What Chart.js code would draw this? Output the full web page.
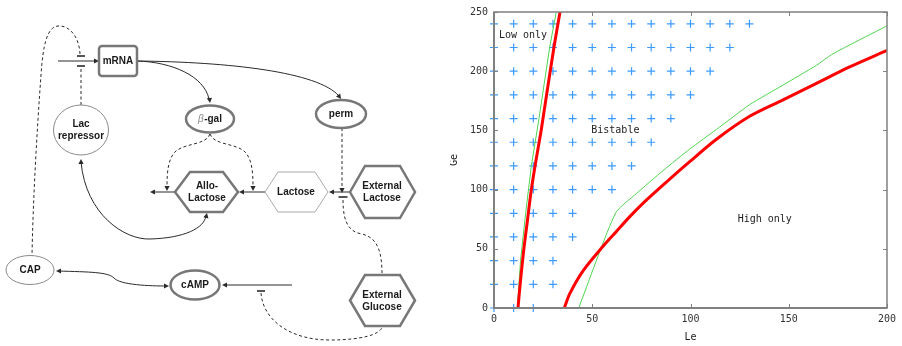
<!DOCTYPE html>
<html>
<head>
<meta charset="utf-8">
<script src="https://cdn.jsdelivr.net/npm/chart.js@4.4.1/dist/chart.umd.min.js"></script>
<style>
  html, body { margin: 0; padding: 0; background: #fff; }
  #diagram { position: absolute; left: 0; top: 0; }
  #plotBox { position: absolute; left: 450px; top: 0; width: 452px; height: 346px; }
</style>
</head>
<body>
<canvas id="diagram" width="450" height="346"></canvas>
<div id="plotBox"><canvas id="plot" width="452" height="346"></canvas></div>
<script>
// grid of sampled parameter sets (Le columns for each Ge row)
const gridGe = [0, 20, 40, 60, 80, 100, 120, 140, 160, 180, 200, 220, 240]
const gridMaxLe = [20, 30, 30, 40, 40, 60, 70, 80, 90, 100, 110, 120, 130]

// bifurcation boundaries, model (red) and approximation (green)
const redLowLe = [12.2, 13.6, 15.2, 17.1, 19.0, 21.4, 24.0, 26.3, 28.6, 31.0, 33.6]
const redLowGe = [0, 25, 50, 75, 100, 125, 150, 175, 200, 225, 250]
const redHighLe = [35.8, 38.5, 45.3, 55.5, 62.3, 69.1, 77.5, 87.7, 99.6, 113.2, 130.1, 147.1, 164.1, 181.0, 200]
const redHighGe = [0, 11.9, 31.4, 52.2, 64.7, 77.2, 91.1, 106.4, 123.6, 142.5, 161.9, 175.8, 189.7, 203.6, 217.5]
const greenLowLe = [11.9, 13.5, 16.1, 19.0, 22.9, 25.6, 28.3, 31.7]
const greenLowGe = [0, 40, 80, 120, 160, 190, 220, 250]
const greenHighLe = [43.1, 61.9, 72.5, 86.0, 99.6, 113.2, 130.1, 147.1, 164.1, 172.5, 200]
const greenHighGe = [0, 80.3, 96.7, 116.0, 134.2, 150.8, 171.7, 188.3, 205.0, 214.7, 238.3]

const xTicks = [0, 50, 100, 150, 200]
const yTicks = [0, 50, 100, 150, 200, 250]

const regionLabels = [
  { text: 'Low only', le: 2.5, ge: 230 },
  { text: 'Bistable', le: 49.5, ge: 150 },
  { text: 'High only', le: 124, ge: 75 }
]

const pts = (xs, ys) => xs.map((x, i) => ({ x: x, y: ys[i] }))
const gridPts = []
gridGe.forEach((g, i) => {
  for (let le = 0; le <= gridMaxLe[i]; le += 10) gridPts.push({ x: le, y: g })
})

const mono = 'DejaVu Sans Mono, monospace'

const frame = {
  id: 'frame',
  afterDatasetsDraw(chart) {
    const { ctx, chartArea: a, scales } = chart
    ctx.save()
    ctx.strokeStyle = '#808080'
    ctx.lineWidth = 1
    xTicks.forEach(v => {
      const px = Math.round(scales.x.getPixelForValue(v)) + 0.5
      ctx.beginPath()
      ctx.moveTo(px, a.bottom); ctx.lineTo(px, a.bottom - 4)
      ctx.moveTo(px, a.top); ctx.lineTo(px, a.top + 4)
      ctx.stroke()
    })
    yTicks.forEach(v => {
      const py = Math.round(scales.y.getPixelForValue(v)) + 0.5
      ctx.beginPath()
      ctx.moveTo(a.left, py); ctx.lineTo(a.left + 4, py)
      ctx.moveTo(a.right, py); ctx.lineTo(a.right - 4, py)
      ctx.stroke()
    })
    ctx.lineWidth = 1.5
    ctx.strokeRect(a.left, a.top, a.right - a.left, a.bottom - a.top)
    ctx.lineWidth = 2
    ctx.beginPath()
    ctx.moveTo(a.left, a.top); ctx.lineTo(a.left, a.bottom); ctx.lineTo(a.right, a.bottom)
    ctx.stroke()
    ctx.restore()
  },
  afterDraw(chart) {
    const { ctx, chartArea: a, scales } = chart
    ctx.save()
    ctx.fillStyle = '#222'
    ctx.font = '10px ' + mono
    ctx.textBaseline = 'middle'
    ctx.textAlign = 'left'
    regionLabels.forEach(r => {
      ctx.fillText(r.text, scales.x.getPixelForValue(r.le), scales.y.getPixelForValue(r.ge))
    })
    ctx.textAlign = 'center'
    ctx.fillText('Le', (a.left + a.right) / 2, 337)
    ctx.translate(4, (a.top + a.bottom) / 2)
    ctx.rotate(-Math.PI / 2)
    ctx.fillText('Ge', 0, 0)
    ctx.restore()
  }
}

new Chart(document.getElementById('plot'), {
  type: 'scatter',
  data: {
    datasets: [
      { data: pts(redLowLe, redLowGe), showLine: true, borderColor: '#ff0000', borderWidth: 3, pointRadius: 0, tension: 0.3 },
      { data: pts(redHighLe, redHighGe), showLine: true, borderColor: '#ff0000', borderWidth: 3, pointRadius: 0, tension: 0.3 },
      { data: pts(greenLowLe, greenLowGe), showLine: true, borderColor: '#4fd44f', borderWidth: 1, pointRadius: 0 },
      { data: pts(greenHighLe, greenHighGe), showLine: true, borderColor: '#4fd44f', borderWidth: 1, pointRadius: 0, tension: 0.2 },
      { data: gridPts, pointStyle: 'cross', pointRadius: 4, borderColor: '#3d9bff', borderWidth: 1.2, clip: false }
    ]
  },
  options: {
    responsive: false,
    animation: false,
    layout: { padding: { top: 7, right: 15 } },
    plugins: { legend: { display: false }, tooltip: { enabled: false } },
    scales: {
      x: {
        type: 'linear', min: 0, max: 200,
        afterFit: s => { s.height = 38 },
        afterBuildTicks: s => { s.ticks = xTicks.map(v => ({ value: v })) },
        grid: { display: false, drawTicks: false }, border: { display: false },
        ticks: { padding: 5, color: '#333', font: { family: mono, size: 10 } }
      },
      y: {
        type: 'linear', min: 0, max: 250,
        afterFit: s => { s.width = 44 },
        afterBuildTicks: s => { s.ticks = yTicks.map(v => ({ value: v })) },
        grid: { display: false, drawTicks: false }, border: { display: false },
        ticks: { padding: 6, color: '#333', font: { family: mono, size: 10 } }
      }
    }
  },
  plugins: [frame]
})

// ---- regulatory network diagram (left panel) ----
const d = document.getElementById('diagram').getContext('2d')
const ink = '#2a2a2a'
const thick = '#777'
const font = 'bold 10px Liberation Sans, Arial, sans-serif'

function arrow(x, y, ang) {
  d.save()
  d.translate(x, y); d.rotate(ang)
  d.beginPath()
  d.moveTo(0, 0); d.lineTo(-5, -2.6); d.lineTo(-5, 2.6); d.closePath()
  d.fillStyle = ink
  d.fill()
  d.restore()
}
function bar(x, y, w) {
  d.save(); d.lineWidth = 1.6; d.strokeStyle = ink
  d.beginPath(); d.moveTo(x - w / 2, y); d.lineTo(x + w / 2, y); d.stroke(); d.restore()
}
function stroke(dashed, fn) {
  d.save()
  d.strokeStyle = ink; d.lineWidth = 1
  d.setLineDash(dashed ? [3, 2.5] : [])
  d.beginPath(); fn(); d.stroke()
  d.restore()
}
function ellipse(cx, cy, rx, ry, heavy) {
  d.save()
  d.beginPath(); d.ellipse(cx, cy, rx, ry, 0, 0, Math.PI * 2)
  d.fillStyle = '#fff'; d.fill()
  d.strokeStyle = heavy ? thick : '#8a8a8a'; d.lineWidth = heavy ? 2.5 : 1
  d.stroke(); d.restore()
}
function hexagon(x0, x1, y0, y1, inset, heavy, color) {
  const cy = (y0 + y1) / 2
  d.save()
  d.beginPath()
  d.moveTo(x0, cy); d.lineTo(x0 + inset, y0); d.lineTo(x1 - inset, y0)
  d.lineTo(x1, cy); d.lineTo(x1 - inset, y1); d.lineTo(x0 + inset, y1); d.closePath()
  d.fillStyle = '#fff'; d.fill()
  d.strokeStyle = color || thick; d.lineWidth = heavy ? 2.5 : 1
  d.stroke(); d.restore()
}
function label(lines, cx, cy) {
  d.save()
  d.fillStyle = '#1a1a1a'; d.font = font
  d.textAlign = 'center'; d.textBaseline = 'middle'
  const h = 12
  lines.forEach((t, i) => d.fillText(t, cx, cy + (i - (lines.length - 1) / 2) * h))
  d.restore()
}

// edges
stroke(false, () => { d.moveTo(58, 61); d.lineTo(97, 61) }); arrow(99, 61, 0)
bar(81, 56, 8); bar(81, 66, 8)
stroke(true, () => {
  d.moveTo(80, 54); d.bezierCurveTo(79, 35, 68, 25, 58, 26)
  d.bezierCurveTo(47, 27, 43, 45, 41, 75)
  d.bezierCurveTo(37, 130, 33, 200, 32, 256)
})
stroke(true, () => { d.moveTo(81, 105); d.lineTo(81, 68) })
stroke(false, () => { d.moveTo(137, 61); d.bezierCurveTo(172, 62, 204, 76, 209, 99) }); arrow(210, 103, 1.45)
stroke(false, () => { d.moveTo(137, 61); d.bezierCurveTo(230, 62, 318, 72, 339, 96) }); arrow(341, 99, 0.95)
stroke(true, () => { d.moveTo(342, 128); d.lineTo(342, 188) }); arrow(342, 193, Math.PI / 2)
bar(343, 197, 9)
stroke(true, () => {
  d.moveTo(343, 200); d.bezierCurveTo(343, 224, 350, 232, 362, 234)
  d.bezierCurveTo(378, 238, 382, 252, 382, 275)
})
stroke(false, () => { d.moveTo(350, 192); d.lineTo(331, 192) }); arrow(329, 192, Math.PI)
stroke(false, () => { d.moveTo(265, 192); d.lineTo(241, 192) }); arrow(239, 192, Math.PI)
stroke(false, () => { d.moveTo(175, 192); d.lineTo(152, 192) }); arrow(150, 192, Math.PI)
stroke(true, () => {
  d.moveTo(210, 134); d.bezierCurveTo(206, 145, 186, 143, 176, 151)
  d.bezierCurveTo(168, 158, 167, 172, 167, 187)
})
arrow(167, 191, Math.PI / 2)
stroke(true, () => {
  d.moveTo(210, 134); d.bezierCurveTo(214, 145, 234, 143, 244, 151)
  d.bezierCurveTo(252, 158, 253, 172, 253, 187)
})
arrow(253, 191, Math.PI / 2)
stroke(false, () => {
  d.moveTo(81, 162); d.bezierCurveTo(86, 215, 125, 240, 150, 239)
  d.bezierCurveTo(185, 238, 204, 228, 206, 216)
})
arrow(81, 159, -Math.PI / 2); arrow(207, 213, -1.35)
stroke(false, () => {
  d.moveTo(58, 271); d.bezierCurveTo(90, 272, 108, 272, 114, 278)
  d.bezierCurveTo(120, 285, 150, 286, 167, 286)
})
arrow(56, 271, Math.PI); arrow(169, 286, 0)
stroke(false, () => { d.moveTo(292, 285); d.lineTo(224, 285) }); arrow(222, 285, Math.PI)
bar(261, 291, 8)
stroke(true, () => {
  d.moveTo(261, 293); d.bezierCurveTo(263, 320, 290, 340, 330, 340)
  d.bezierCurveTo(360, 340, 380, 335, 382, 327)
})

// nodes
d.save()
d.beginPath(); d.roundRect(99, 46, 38, 30, 3)
d.fillStyle = '#fff'; d.fill(); d.strokeStyle = thick; d.lineWidth = 2.5; d.stroke()
d.restore()
label(['mRNA'], 118, 61)

ellipse(81, 130, 27.5, 25, false); label(['Lac', 'repressor'], 81, 130)
ellipse(210, 119, 24, 13.5, true)
d.save()
d.font = font; d.textBaseline = 'middle'
const bw = d.measureText('\u03b2').width, gw = d.measureText('-gal').width
d.font = 'italic 10px Liberation Sans, Arial, sans-serif'
d.fillStyle = '#888'; d.fillText('\u03b2', 210 - (bw + gw) / 2, 119)
d.font = font
d.fillStyle = '#1a1a1a'; d.fillText('-gal', 210 - (bw + gw) / 2 + bw, 119)
d.restore()
ellipse(341, 114, 25, 14, true); label(['perm'], 341, 114)

hexagon(175, 238, 172, 212, 15, true); label(['Allo-', 'Lactose'], 207, 192)
hexagon(265, 328, 172, 212, 13, false, '#aaa'); label(['Lactose'], 296, 192)
hexagon(350, 415, 166, 218, 15, true); label(['External', 'Lactose'], 382, 192)
hexagon(350, 415, 275, 326, 15, true); label(['External', 'Glucose'], 382, 301)

ellipse(30, 270, 24, 14.5, false); label(['CAP'], 30, 270)
ellipse(195, 285, 24.5, 14.5, true); label(['cAMP'], 195, 285)
</script>
</body>
</html>
